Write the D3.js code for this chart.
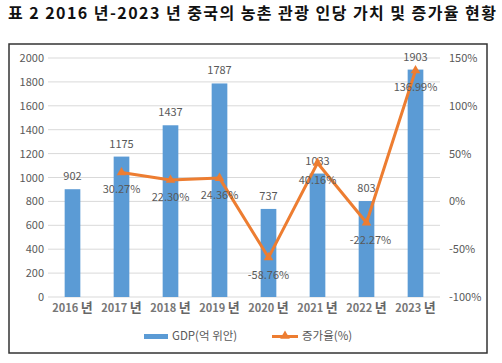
<!DOCTYPE html>
<html><head><meta charset="utf-8">
<script src="https://cdn.jsdelivr.net/npm/d3@7"></script>
<style>body{margin:0;background:#fff;} svg{display:block;}</style>
</head><body>
<svg id="c" width="502" height="363"></svg>
<script>
const title = "표 2 2016 년-2023 년 중국의 농촌 관광 인당 가치 및 증가율 현황";
const years = ["2016","2017","2018","2019","2020","2021","2022","2023"];
const gdp = [902,1175,1437,1787,737,1033,803,1903];
const growth = [null,30.27,22.30,24.36,-58.76,40.16,-22.27,136.99];
const leftTicks = [0,200,400,600,800,1000,1200,1400,1600,1800,2000];
const rightTicks = [-100,-50,0,50,100,150];
const seriesNames = ["GDP(억 위안)","증가율(%)"];

const svg = d3.select("#c");
const font = "'Noto Sans CJK KR','Noto Sans',sans-serif";
const blue = "#5B9BD5", orange = "#ED7D31", gray = "#595959";

svg.append("text").attr("x",8).attr("y",19).attr("font-family",font)
  .attr("font-size",16).attr("font-weight","bold").attr("fill","#111")
  .attr("textLength",488).attr("lengthAdjust","spacing").text(title);

svg.append("rect").attr("x",9).attr("y",44).attr("width",478).attr("height",309)
  .attr("fill","none").attr("stroke","#333").attr("stroke-width",1.5);

const x0 = 48, x1 = 440, yTop = 58, yBot = 297;
const x = d3.scaleBand().domain(years).range([x0,x1]).paddingInner(0.68).paddingOuter(0.34);
const y = d3.scaleLinear().domain([0,2000]).range([yBot,yTop]);
const y2 = d3.scaleLinear().domain([-100,150]).range([yBot,yTop]);

// gridlines
svg.append("g").selectAll("line").data(leftTicks).join("line")
  .attr("x1",x0).attr("x2",x1).attr("y1",d=>y(d)).attr("y2",d=>y(d))
  .attr("stroke","#d9d9d9").attr("stroke-width",1);

// left axis
const la = svg.append("g").attr("transform",`translate(${x0-4},0)`)
  .call(d3.axisLeft(y).tickValues(leftTicks).tickSize(0).tickPadding(0).tickFormat(d=>String(d)));
la.select(".domain").remove();
la.selectAll("text").attr("font-family",font).attr("font-size",11).attr("fill",gray);

// right axis
const ra = svg.append("g").attr("transform",`translate(${x1+9},0)`)
  .call(d3.axisRight(y2).tickValues(rightTicks).tickSize(0).tickPadding(0).tickFormat(d=>d+"%"));
ra.select(".domain").remove();
ra.selectAll("text").attr("font-family",font).attr("font-size",11).attr("fill",gray);

// bars
svg.append("g").selectAll("rect").data(years).join("rect")
  .attr("x",d=>x(d)).attr("width",x.bandwidth())
  .attr("y",(d,i)=>y(gdp[i])).attr("height",(d,i)=>yBot-y(gdp[i]))
  .attr("fill",blue);

// x axis labels
const xa = svg.append("g").attr("transform",`translate(0,${yBot+8})`)
  .call(d3.axisBottom(x).tickSize(0).tickPadding(0).tickFormat(d=>d));
xa.select(".domain").remove();
xa.selectAll("text").text(null).attr("font-family",font).attr("fill","#777").attr("font-weight","bold")
  .each(function(d){
    const t = d3.select(this);
    t.append("tspan").attr("font-size",11).text(d+" ");
    t.append("tspan").attr("font-size",13).attr("fill","#666").text("년");
  });

// bar value labels
svg.append("g").selectAll("text").data(years).join("text")
  .attr("x",d=>x(d)+x.bandwidth()/2).attr("y",(d,i)=>y(gdp[i])-9)
  .attr("text-anchor","middle").attr("font-family",font).attr("font-size",11).attr("fill",gray)
  .text((d,i)=>gdp[i]);

// line
const pts = years.map((d,i)=>({d,v:growth[i]})).filter(p=>p.v!==null);
const cx = d=>x(d)+x.bandwidth()/2;
svg.append("path").datum(pts)
  .attr("d",d3.line().x(p=>cx(p.d)).y(p=>y2(p.v)))
  .attr("fill","none").attr("stroke",orange).attr("stroke-width",3).attr("stroke-linejoin","round");
const tri = d3.symbol().type(d3.symbolTriangle).size(40);
svg.append("g").selectAll("path").data(pts).join("path")
  .attr("transform",p=>`translate(${cx(p.d)},${y2(p.v)})`).attr("d",tri).attr("fill",orange);

// line labels
svg.append("g").selectAll("text").data(pts).join("text")
  .attr("x",p=>cx(p.d)+(p.d==="2022"?4:0)).attr("y",p=>y2(p.v)+21)
  .attr("text-anchor","middle").attr("font-family",font).attr("font-size",11).attr("fill",gray)
  .text(p=>p.v.toFixed(2)+"%");

// legend
const lg = svg.append("g");
lg.append("rect").attr("x",144).attr("y",334).attr("width",24).attr("height",5).attr("fill",blue);
lg.append("text").attr("x",172).attr("y",340).attr("font-family",font).attr("font-size",11.5).attr("fill",gray).text(seriesNames[0]);
lg.append("line").attr("x1",272).attr("x2",298).attr("y1",336.5).attr("y2",336.5).attr("stroke",orange).attr("stroke-width",3);
lg.append("path").attr("transform","translate(285,336)").attr("d",tri).attr("fill",orange);
lg.append("text").attr("x",302).attr("y",340).attr("font-family",font).attr("font-size",11.5).attr("fill",gray).text(seriesNames[1]);
</script>
</body></html>
